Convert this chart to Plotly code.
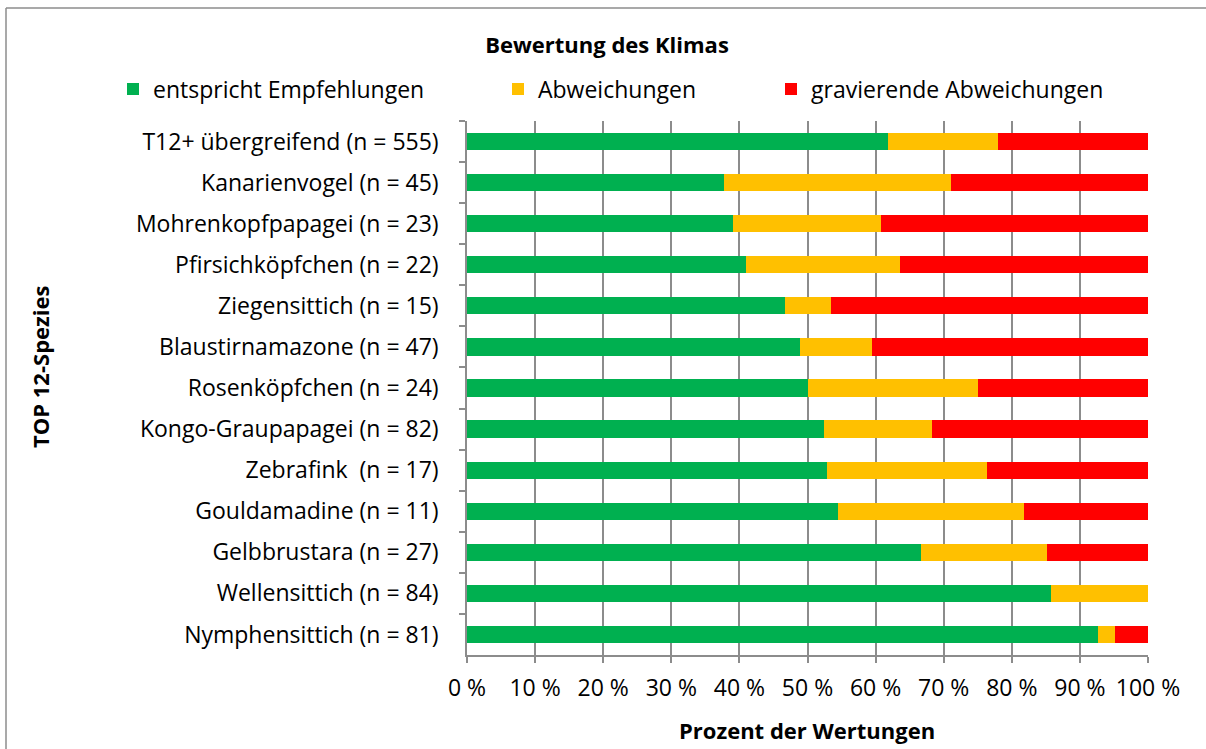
import plotly.graph_objects as go

categories = [
    "T12+ übergreifend (n = 555)",
    "Kanarienvogel (n = 45)",
    "Mohrenkopfpapagei (n = 23)",
    "Pfirsichköpfchen (n = 22)",
    "Ziegensittich (n = 15)",
    "Blaustirnamazone (n = 47)",
    "Rosenköpfchen (n = 24)",
    "Kongo-Graupapagei (n = 82)",
    "Zebrafink  (n = 17)",
    "Gouldamadine (n = 11)",
    "Gelbbrustara (n = 27)",
    "Wellensittich (n = 84)",
    "Nymphensittich (n = 81)",
]
entspricht = [61.8, 37.8, 39.1, 40.9, 46.7, 48.9, 50.0, 52.4, 52.9, 54.5, 66.7, 85.7, 92.6]
abweichungen = [16.2, 33.3, 21.7, 22.7, 6.7, 10.6, 25.0, 15.9, 23.5, 27.3, 18.5, 14.3, 2.5]
gravierend = [22.0, 28.9, 39.2, 36.4, 46.6, 40.5, 25.0, 31.7, 23.6, 18.2, 14.8, 0.0, 4.9]
series_names = ["entspricht Empfehlungen", "Abweichungen", "gravierende Abweichungen"]
colors = ["#00B050", "#FFC000", "#FF0000"]
x_ticks = [0, 10, 20, 30, 40, 50, 60, 70, 80, 90, 100]
x_tick_labels = ["0 %", "10 %", "20 %", "30 %", "40 %", "50 %", "60 %", "70 %", "80 %", "90 %", "100 %"]

FONT = "'Open Sans', 'Noto Sans', sans-serif"
FS = 23
FSB = 22
W, H = 1206, 749
L, R, T, B = 467, 58, 121, 94
pw, ph = W - L - R, H - T - B


def px_x(p):
    return (p - L) / pw


def px_y(p):
    return (H - B - p) / ph


fig = go.Figure()
legends = ["legend2", "legend3", "legend4"]
for name, vals, col, lg in zip(series_names, [entspricht, abweichungen, gravierend], colors, legends):
    fig.add_trace(go.Bar(
        y=categories, x=vals, name=name, orientation="h",
        marker=dict(color=col, line=dict(width=0)),
        legend=lg, hoverinfo="x+y+name",
    ))

leg_common = dict(orientation="h", xanchor="left", yanchor="middle",
                  font=dict(family=FONT, size=FS, color="#000000"),
                  bgcolor="rgba(0,0,0,0)", borderwidth=0)
legend_x = [113, 498, 771]
layout_leg = {}
for lg, xp in zip(legends, legend_x):
    layout_leg[lg] = dict(x=px_x(xp), y=px_y(89), **leg_common)

grid_col = "#8C8C8C"
fig.update_layout(
    width=W, height=H,
    margin=dict(l=L, r=R, t=T, b=B, autoexpand=False),
    paper_bgcolor="white", plot_bgcolor="white",
    barmode="stack", bargap=0.58, showlegend=True,
    font=dict(family=FONT, size=FS, color="#000000"),
    title=dict(text="<b>Bewertung des Klimas</b>", x=px_x(607), xref="paper", xanchor="center",
               y=1 - 45 / H, yanchor="middle",
               font=dict(family=FONT, size=FSB, color="#000000")),
    xaxis=dict(range=[0, 100], tickvals=x_ticks, ticktext=x_tick_labels,
               showgrid=True, gridcolor=grid_col, gridwidth=1.5,
               showline=True, linecolor=grid_col, linewidth=1.5,
               ticks="outside", ticklen=6, tickcolor=grid_col, tickwidth=1.5,
               ticklabelstandoff=6, zeroline=False,
               tickfont=dict(family=FONT, size=FS)),
    yaxis=dict(autorange="reversed", type="category",
               showline=True, linecolor=grid_col, linewidth=1.5,
               ticks="outside", tickson="boundaries", ticklen=6,
               tickcolor=grid_col, tickwidth=1.5, showgrid=False,
               ticklabelstandoff=22,
               tickfont=dict(family=FONT, size=FS)),
    **layout_leg,
)

fig.add_annotation(text="<b>Prozent der Wertungen</b>", xref="paper", yref="paper",
                   x=px_x(807), y=px_y(730), xanchor="center", yanchor="middle",
                   showarrow=False, font=dict(family=FONT, size=FSB))
fig.add_annotation(text="<b>TOP 12-Spezies</b>", xref="paper", yref="paper",
                   x=px_x(40), y=px_y(367), xanchor="center", yanchor="middle",
                   textangle=-90, showarrow=False, font=dict(family=FONT, size=FSB))

# outer chart frame (only top and left edges are visible in the reference)
fig.add_shape(type="line", xref="paper", yref="paper",
              x0=px_x(6), x1=px_x(1300), y0=px_y(8), y1=px_y(8),
              line=dict(color=grid_col, width=1.5), layer="below")
fig.add_shape(type="line", xref="paper", yref="paper",
              x0=px_x(6), x1=px_x(6), y0=px_y(8), y1=px_y(800),
              line=dict(color=grid_col, width=1.5), layer="below")

fig.write_html("out.html", config={"displayModeBar": False},
               post_script="document.body.style.margin='0';"
                           "document.body.style.overflow='hidden';"
                           "document.documentElement.style.overflow='hidden';")
